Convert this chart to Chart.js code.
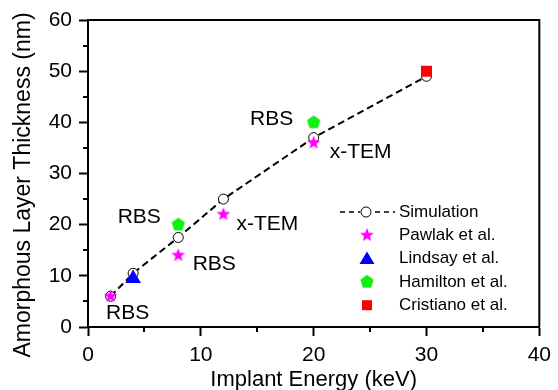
<!DOCTYPE html>
<html>
<head>
<meta charset="utf-8">
<script src="https://cdn.jsdelivr.net/npm/chart.js@4.4.0/dist/chart.umd.min.js"></script>
<style>
  html, body { margin: 0; padding: 0; background: #fff; }
</style>
</head>
<body>
<canvas id="chart" width="558" height="390"></canvas>
<script>
// implant energy (keV) vs amorphous layer thickness (nm)
const simEnergy = [2, 4, 8, 12, 20, 30];
const simThickness = [6, 10.5, 17.5, 25, 37, 49];

const pawlakEnergy = [2, 8, 12, 20];
const pawlakThickness = [6, 14, 22, 36];

const lindsayEnergy = [4];
const lindsayThickness = [9.5];

const hamiltonEnergy = [8, 20];
const hamiltonThickness = [20, 40];

const cristianoEnergy = [30];
const cristianoThickness = [50];

const seriesNames = ['Simulation', 'Pawlak et al.', 'Lindsay et al.', 'Hamilton et al.', 'Cristiano et al.'];

// measurement method written next to some points
const noteText = ['RBS', 'RBS', 'RBS', 'x-TEM', 'RBS', 'x-TEM'];
const noteEnergy = [2, 8, 8, 12, 20, 20];
const noteThickness = [6, 20, 14, 22, 40, 36];

const xTicks = [0, 10, 20, 30, 40];
const yTicks = [0, 10, 20, 30, 40, 50, 60];

const xTitle = 'Implant Energy (keV)';
const yTitle = 'Amorphous Layer Thickness (nm)';

const FONT = "'Liberation Sans', Arial, Helvetica, sans-serif";

function pts(xs, ys) {
    return xs.map((x, i) => ({ x: x, y: ys[i] }));
}

// filled polygon markers (chart.js has no filled star / pentagon)
function polyMarker(size, color, n, rOut, rIn) {
    const c = document.createElement('canvas');
    c.width = size;
    c.height = size;
    const g = c.getContext('2d');
    const k = rIn ? n * 2 : n;
    g.fillStyle = color;
    g.beginPath();
    for (let i = 0; i < k; i++) {
        const r = (rIn && i % 2) ? rIn : rOut;
        const a = -Math.PI / 2 + i * 2 * Math.PI / k;
        const px = size / 2 + r * Math.cos(a);
        const py = size / 2 + r * Math.sin(a);
        if (i == 0) g.moveTo(px, py); else g.lineTo(px, py);
    }
    g.closePath();
    g.fill();
    return c;
}

const starImg = polyMarker(16, '#ff00ff', 5, 7.2, 3);
const pentImg = polyMarker(16, '#11ee11', 5, 7, 0);

function midTicks(ticks) {
    const out = [];
    for (let i = 0; i < ticks.length - 1; i++) out.push((ticks[i] + ticks[i + 1]) / 2);
    return out;
}

const minorTicks = {
    id: 'minorTicks',
    afterDraw(chart) {
        const ctx = chart.ctx;
        const a = chart.chartArea;
        const xs = chart.scales.x, ys = chart.scales.y;
        ctx.save();
        ctx.strokeStyle = '#000';
        ctx.lineWidth = 2;
        ctx.beginPath();
        midTicks(xTicks).forEach(v => {
            const p = Math.round(xs.getPixelForValue(v));
            ctx.moveTo(p, a.bottom);
            ctx.lineTo(p, a.bottom + 5);
        });
        midTicks(yTicks).forEach(v => {
            const p = Math.round(ys.getPixelForValue(v));
            ctx.moveTo(a.left - 5, p);
            ctx.lineTo(a.left, p);
        });
        ctx.stroke();
        // top and right frame
        ctx.beginPath();
        ctx.moveTo(a.left, a.top);
        ctx.lineTo(a.right, a.top);
        ctx.lineTo(a.right, a.bottom);
        ctx.stroke();
        // y title
        ctx.fillStyle = '#000';
        ctx.font = '23px ' + FONT;
        ctx.textAlign = 'center';
        ctx.textBaseline = 'middle';
        ctx.translate(24, 185);
        ctx.rotate(-Math.PI / 2);
        ctx.fillText(yTitle, 0, 0);
        ctx.restore();
    }
};

// offsets of the method notes from their point, px
const noteOffsets = [[17, 17], [-39, -7], [36, 9], [44, 10], [-42, -3], [47, 9]];

const notes = {
    id: 'notes',
    afterDraw(chart) {
        const ctx = chart.ctx;
        const xs = chart.scales.x, ys = chart.scales.y;
        ctx.save();
        ctx.fillStyle = '#000';
        ctx.font = '21px ' + FONT;
        ctx.textAlign = 'center';
        ctx.textBaseline = 'middle';
        noteText.forEach((t, i) => {
            const px = xs.getPixelForValue(noteEnergy[i]) + noteOffsets[i][0];
            const py = ys.getPixelForValue(noteThickness[i]) + noteOffsets[i][1];
            ctx.fillText(t, px, py);
        });
        ctx.restore();
    }
};

const legendBox = {
    id: 'legendBox',
    afterDraw(chart) {
        const ctx = chart.ctx;
        const x0 = 367, tx = 399, y0 = 212, dy = 23.3;
        ctx.save();
        ctx.font = '17px ' + FONT;
        ctx.textBaseline = 'middle';
        ctx.textAlign = 'left';
        ctx.fillStyle = '#000';
        seriesNames.forEach((n, i) => ctx.fillText(n, tx, y0 + i * dy));

        // simulation: dashed line + open circle
        ctx.strokeStyle = '#000';
        ctx.lineWidth = 1.5;
        ctx.setLineDash([5, 4]);
        ctx.beginPath();
        ctx.moveTo(340, y0);
        ctx.lineTo(360, y0);
        ctx.moveTo(375, y0);
        ctx.lineTo(395, y0);
        ctx.stroke();
        ctx.setLineDash([]);
        ctx.lineWidth = 1;
        ctx.fillStyle = '#fff';
        ctx.beginPath();
        ctx.arc(366, y0, 5, 0, Math.PI * 2);
        ctx.fill();
        ctx.stroke();

        ctx.drawImage(starImg, x0 - 8, y0 + dy - 8);
        // triangle
        const ty = y0 + 2 * dy;
        ctx.fillStyle = '#0000ff';
        ctx.beginPath();
        ctx.moveTo(x0, ty - 7);
        ctx.lineTo(x0 + 7.5, ty + 5.5);
        ctx.lineTo(x0 - 7.5, ty + 5.5);
        ctx.closePath();
        ctx.fill();
        ctx.drawImage(pentImg, x0 - 8, y0 + 3 * dy - 8);
        ctx.fillStyle = '#ff0000';
        ctx.fillRect(x0 - 5, y0 + 4 * dy - 5, 10, 10);
        ctx.restore();
    }
};

const chart = new Chart(document.getElementById('chart'), {
    type: 'scatter',
    data: {
        datasets: [
            {
                label: seriesNames[0],
                data: pts(simEnergy, simThickness),
                showLine: true,
                borderColor: '#000',
                borderWidth: 2,
                borderDash: [7, 4],
                pointStyle: 'circle',
                pointRadius: 5,
                pointBackgroundColor: '#fff',
                pointBorderColor: '#000',
                pointBorderWidth: 1,
                order: 10
            },
            {
                label: seriesNames[1],
                data: pts(pawlakEnergy, pawlakThickness),
                pointStyle: starImg,
                pointRadius: 7,
                order: 1
            },
            {
                label: seriesNames[2],
                data: pts(lindsayEnergy, lindsayThickness),
                pointStyle: 'triangle',
                pointRadius: 9,
                backgroundColor: '#0000ff',
                borderColor: '#0000ff',
                borderWidth: 0,
                order: 2
            },
            {
                label: seriesNames[3],
                data: pts(hamiltonEnergy, hamiltonThickness),
                pointStyle: pentImg,
                pointRadius: 7,
                order: 3
            },
            {
                label: seriesNames[4],
                data: pts(cristianoEnergy, cristianoThickness),
                pointStyle: 'rect',
                pointRadius: 7.8,
                backgroundColor: '#ff0000',
                borderColor: '#ff0000',
                borderWidth: 0,
                order: 4
            }
        ]
    },
    options: {
        responsive: false,
        animation: false,
        devicePixelRatio: 1,
        layout: {
            padding: { top: 20, right: 14, left: 0, bottom: 0 }
        },
        plugins: {
            legend: { display: false },
            tooltip: { enabled: false }
        },
        scales: {
            x: {
                type: 'linear',
                min: xTicks[0],
                max: xTicks[xTicks.length - 1],
                afterFit: s => { s.height = 63; },
                ticks: {
                    stepSize: xTicks[1] - xTicks[0],
                    color: '#000',
                    font: { family: FONT, size: 21 },
                    padding: 7,
                    maxRotation: 0
                },
                grid: {
                    drawOnChartArea: false,
                    drawTicks: true,
                    tickLength: 9,
                    tickWidth: 2,
                    color: '#000'
                },
                border: { display: true, color: '#000', width: 2 },
                title: {
                    display: true,
                    text: xTitle,
                    color: '#000',
                    font: { family: FONT, size: 22 },
                    padding: { top: 0, bottom: -3 }
                }
            },
            y: {
                type: 'linear',
                min: yTicks[0],
                max: yTicks[yTicks.length - 1],
                afterFit: s => { s.width = 88; },
                ticks: {
                    stepSize: yTicks[1] - yTicks[0],
                    color: '#000',
                    font: { family: FONT, size: 21 },
                    padding: 7
                },
                grid: {
                    drawOnChartArea: false,
                    drawTicks: true,
                    tickLength: 9,
                    tickWidth: 2,
                    color: '#000'
                },
                border: { display: true, color: '#000', width: 2 }
            }
        }
    },
    plugins: [minorTicks, notes, legendBox]
});
</script>
</body>
</html>
